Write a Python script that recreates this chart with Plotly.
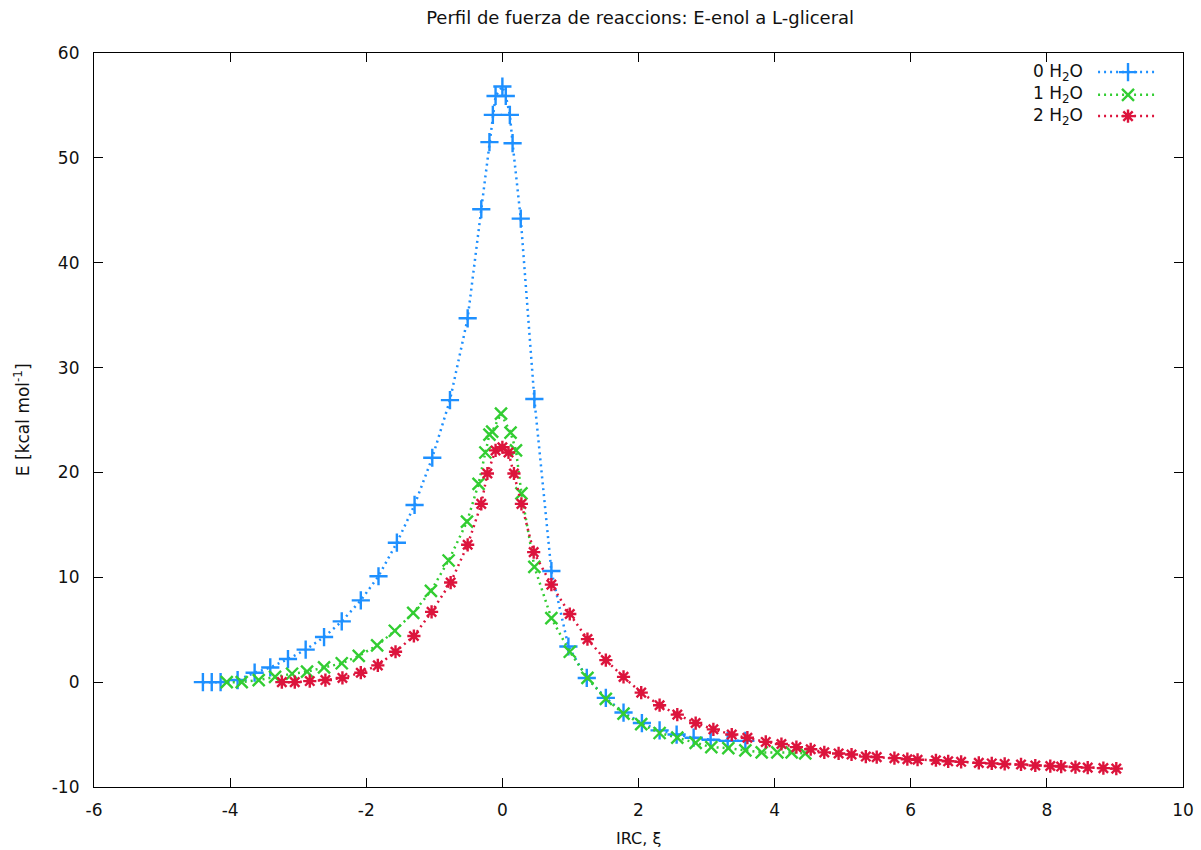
import plotly.graph_objects as go

# IRC energy profiles (E in kcal/mol) for 0, 1 and 2 explicit water molecules
irc_0w = [-4.40, -4.27, -4.14, -3.89, -3.64, -3.41, -3.15, -2.89, -2.62, -2.36,
          -2.08, -1.82, -1.55, -1.29, -1.03, -0.77, -0.51, -0.31, -0.19, -0.14,
          -0.10, 0.00, 0.05, 0.11, 0.15, 0.27, 0.47, 0.72, 0.97, 1.24,
          1.52, 1.78, 2.05, 2.31, 2.56, 2.81, 3.06, 3.31, 3.57]
e_0w = [0.0, 0.0, 0.0, 0.2, 0.9, 1.4, 2.2, 3.1, 4.3, 5.8,
        7.8, 10.1, 13.3, 16.9, 21.4, 26.9, 34.7, 45.1, 51.5, 54.1,
        55.9, 56.8, 55.9, 54.1, 51.4, 44.2, 27.0, 10.6, 3.4, 0.4,
        -1.5, -2.9, -3.9, -4.6, -5.0, -5.3, -5.5, -5.6, -5.6]

irc_1w = [-4.05, -3.83, -3.58, -3.34, -3.09, -2.87, -2.62, -2.36, -2.11, -1.84,
          -1.58, -1.31, -1.05, -0.79, -0.52, -0.35, -0.25, -0.19, -0.15, -0.02,
          0.12, 0.20, 0.28, 0.47, 0.72, 0.99, 1.25, 1.52, 1.78, 2.04,
          2.31, 2.57, 2.84, 3.07, 3.32, 3.57, 3.81, 4.04, 4.25, 4.45]
e_1w = [0.0, 0.0, 0.2, 0.5, 0.8, 1.0, 1.4, 1.8, 2.5, 3.5,
        4.9, 6.6, 8.7, 11.6, 15.3, 18.9, 21.9, 23.6, 23.9, 25.6,
        23.8, 22.1, 18.0, 11.0, 6.1, 2.9, 0.4, -1.6, -3.0, -4.0,
        -4.85, -5.3, -5.8, -6.2, -6.3, -6.5, -6.7, -6.7, -6.7, -6.8]

irc_2w = [-3.24, -3.05, -2.83, -2.60, -2.35, -2.08, -1.83, -1.57, -1.30, -1.04,
          -0.76, -0.51, -0.31, -0.22, -0.10, 0.00, 0.09, 0.17, 0.28, 0.46,
          0.72, 0.99, 1.25, 1.52, 1.78, 2.04, 2.31, 2.57, 2.84, 3.10,
          3.37, 3.60, 3.87, 4.10, 4.32, 4.53, 4.73, 4.94, 5.13, 5.34,
          5.50, 5.76, 5.95, 6.10, 6.37, 6.55, 6.74, 7.00, 7.19, 7.38,
          7.62, 7.83, 8.05, 8.21, 8.42, 8.60, 8.83, 9.02]
e_2w = [0.0, 0.0, 0.1, 0.2, 0.4, 0.9, 1.6, 2.9, 4.4, 6.7,
        9.5, 13.1, 17.0, 19.9, 22.1, 22.4, 21.9, 19.9, 17.0, 12.4,
        9.3, 6.5, 4.1, 2.1, 0.5, -1.0, -2.2, -3.1, -3.9, -4.5,
        -5.0, -5.3, -5.7, -5.9, -6.2, -6.4, -6.7, -6.8, -6.9, -7.1,
        -7.15, -7.25, -7.35, -7.4, -7.45, -7.55, -7.6, -7.7, -7.75, -7.8,
        -7.85, -7.95, -8.0, -8.05, -8.1, -8.15, -8.2, -8.25]

# axis ticks (labels written with a plain hyphen-minus)
x_ticks = [-6, -4, -2, 0, 2, 4, 6, 8, 10]
y_ticks = [-10, 0, 10, 20, 30, 40, 50, 60]

labels = ["0 H<sub>2</sub>O", "1 H<sub>2</sub>O", "2 H<sub>2</sub>O"]
colors = ["#1E90FF", "#32CD32", "#DC143C"]
symbols = ["cross-thin", "x-thin", "asterisk"]
sizes = [13, 12, 11]

FONT = "DejaVu Sans, Verdana, sans-serif"
FS = 17
DOT = "2px,4px"
INK = "#111"

series = [(irc_0w, e_0w), (irc_1w, e_1w), (irc_2w, e_2w)]

fig = go.Figure()
for (xs, ys), name, col, sym, sz in zip(series, labels, colors, symbols, sizes):
    fig.add_trace(go.Scatter(
        x=xs, y=ys, name=name, mode="lines+markers", showlegend=False,
        line=dict(color=col, width=2.5, dash=DOT),
        marker=dict(symbol=sym, size=sz, color=col,
                    line=dict(color=col, width=2.4)),
    ))

# key in the upper right corner: label, then a line sample with its marker
key_rows = [0.974, 0.943, 0.914]
for name, col, sym, sz, ky in zip(labels, colors, symbols, sizes, key_rows):
    fig.add_trace(go.Scatter(
        x=[0.922, 0.977], y=[ky, ky], mode="lines", xaxis="x2", yaxis="y2",
        showlegend=False, hoverinfo="skip",
        line=dict(color=col, width=2.5, dash=DOT),
    ))
    fig.add_trace(go.Scatter(
        x=[0.9495], y=[ky], mode="markers", xaxis="x2", yaxis="y2",
        showlegend=False, hoverinfo="skip",
        marker=dict(symbol=sym, size=sz, color=col,
                    line=dict(color=col, width=2.4)),
    ))
    fig.add_annotation(
        x=0.910, y=ky, xref="paper", yref="paper", text=name,
        showarrow=False, xanchor="right", yanchor="middle",
        font=dict(family=FONT, size=FS, color=INK),
    )

# axis titles
fig.add_annotation(
    x=0.5, y=-0.0695, xref="paper", yref="paper", text="IRC, ξ",
    showarrow=False, xanchor="center", yanchor="middle",
    font=dict(family=FONT, size=16, color=INK),
)
fig.add_annotation(
    x=-0.066, y=0.5, xref="paper", yref="paper",
    text="E [kcal mol<sup>-1</sup>]", textangle=-90,
    showarrow=False, xanchor="center", yanchor="middle",
    font=dict(family=FONT, size=17, color=INK),
)

axis_common = dict(
    showline=True, linecolor="black", linewidth=1.2, mirror="ticks",
    ticks="inside", ticklen=9, tickwidth=1.2, tickcolor="black",
    showgrid=False, zeroline=False, automargin=False,
    tickfont=dict(family=FONT, size=FS, color=INK),
)

fig.update_layout(
    width=1201, height=850,
    margin=dict(l=94, r=18, t=53, b=63),
    paper_bgcolor="white", plot_bgcolor="white",
    title=dict(text="Perfil de fuerza de reaccions: E-enol a L-gliceral",
               x=0.533, xanchor="center", y=0.979, yanchor="middle",
               font=dict(family=FONT, size=18, color=INK)),
    xaxis=dict(range=[-6, 10], tickvals=x_ticks,
               ticktext=[str(v) for v in x_ticks], ticklabelstandoff=7,
               **axis_common),
    yaxis=dict(range=[-10, 60], tickvals=y_ticks,
               ticktext=[str(v) for v in y_ticks], ticklabelstandoff=10,
               **axis_common),
    xaxis2=dict(overlaying="x", range=[0, 1], visible=False),
    yaxis2=dict(overlaying="y", range=[0, 1], visible=False),
)

fig.write_html("out.html")
